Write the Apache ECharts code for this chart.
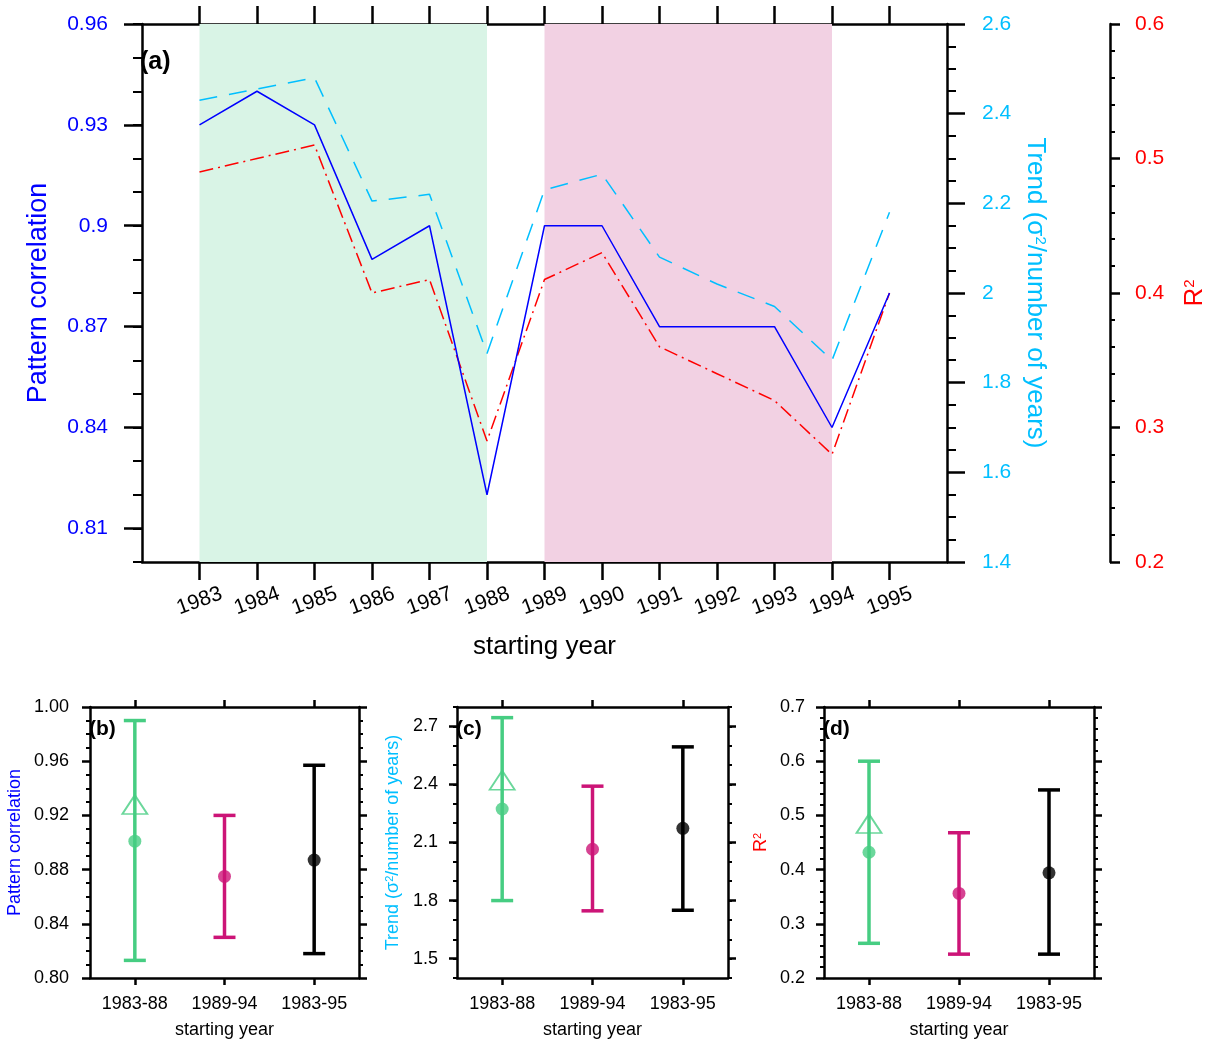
<!DOCTYPE html>
<html>
<head>
<meta charset="utf-8">
<script src="https://cdn.jsdelivr.net/npm/echarts@6/dist/echarts.min.js"></script>
<style>
  html, body { margin: 0; padding: 0; background: #ffffff; }
  #chart { width: 1223px; height: 1056px; }
</style>
</head>
<body>
<div id="chart"></div>
<script>
// ---- panel (a): yearly values ----
const years = [1983, 1984, 1985, 1986, 1987, 1988, 1989, 1990, 1991, 1992, 1993, 1994, 1995];
const patternCorr = [0.93, 0.94, 0.93, 0.89, 0.90, 0.82, 0.90, 0.90, 0.87, 0.87, 0.87, 0.84, 0.88];
const trendValues = [2.43, 2.455, 2.48, 2.205, 2.22, 1.865, 2.23, 2.265, 2.08, 2.02, 1.97, 1.85, 2.18];
const rSquared = [0.49, 0.50, 0.51, 0.40, 0.41, 0.29, 0.41, 0.43, 0.36, 0.34, 0.32, 0.28, 0.40];
const firstPeriod = [1983, 1988];
const secondPeriod = [1989, 1994];

// tick label values
const corrTickLabels = [0.81, 0.84, 0.87, 0.90, 0.93, 0.96];
const panelTrendTickLabels = [1.5, 1.8, 2.1, 2.4, 2.7];

// ---- panels (b)-(d): period statistics ----
const periods = ['1983-88', '1989-94', '1983-95'];
const corrMean = [0.901, 0.875, 0.887];
const corrLow = [0.813, 0.830, 0.818];
const corrHigh = [0.990, 0.920, 0.957];
const corrTriangle = [0.928];
const trendMean = [2.273, 2.065, 2.173];
const trendLow = [1.800, 1.747, 1.750];
const trendHigh = [2.745, 2.391, 2.594];
const trendTriangle = [2.422];
const r2Mean = [0.432, 0.356, 0.394];
const r2Low = [0.264, 0.244, 0.244];
const r2High = [0.600, 0.468, 0.547];
const r2Triangle = [0.485];

const periodColors = ['#46cd82', '#cc1477', '#000000'];
const BLUE = '#0000ff', SKY = '#00bfff', RED = '#ff0000';
const FONT = '"Liberation Sans", Arial, Helvetica, sans-serif';

function steps(lo, hi, step) {
  const out = [];
  const n = Math.round((hi - lo) / step);
  for (let i = 0; i <= n; i++) out.push(+(lo + i * step).toFixed(6));
  return out;
}

const frameLine = { show: true, onZero: false, lineStyle: { color: '#000', width: 2.5 } };
const noLabel = { show: false };
const noSplit = { show: false };

// ---- axes ----
const xAxes = [
  { // (a) bottom
    type: 'value', gridIndex: 0, position: 'bottom', min: 1982, max: 1996,
    axisLine: frameLine, splitLine: noSplit,
    axisTick: { show: true, customValues: years, length: 18, lineStyle: { width: 2.5, color: '#000' } },
    axisLabel: { show: true, customValues: years, rotate: 20, align: 'center', verticalAlign: 'middle',
                 margin: 39, fontSize: 21, color: '#000', fontFamily: FONT, formatter: v => String(v) },
    name: 'starting year', nameLocation: 'middle', nameGap: 72,
    nameTextStyle: { fontSize: 26, color: '#000', fontFamily: FONT }
  },
  { // (a) top
    type: 'value', gridIndex: 0, position: 'top', min: 1982, max: 1996,
    axisLine: frameLine, splitLine: noSplit, axisLabel: noLabel,
    axisTick: { show: true, customValues: years, length: 18, lineStyle: { width: 2.5, color: '#000' } }
  }
];

const yAxes = [
  { // 0: (a) pattern correlation, major ticks + labels
    type: 'value', gridIndex: 0, position: 'left', min: 0.80, max: 0.96,
    axisLine: frameLine, splitLine: noSplit,
    axisTick: { show: true, customValues: corrTickLabels, length: 18, lineStyle: { width: 2.5, color: '#000' } },
    axisLabel: { show: true, customValues: corrTickLabels, margin: 34, fontSize: 21, color: BLUE, fontFamily: FONT },
    name: 'Pattern correlation', nameLocation: 'middle', nameGap: 90,
    nameTextStyle: { fontSize: 27, color: BLUE, fontFamily: FONT }
  },
  { // 1: (a) pattern correlation minor ticks
    type: 'value', gridIndex: 0, position: 'left', min: 0.80, max: 0.96,
    axisLine: { show: false }, splitLine: noSplit, axisLabel: noLabel,
    axisTick: { show: true, customValues: steps(0.80, 0.96, 0.01), length: 9, lineStyle: { width: 2, color: '#000' } }
  },
  { // 2: (a) trend
    type: 'value', gridIndex: 0, position: 'right', min: 1.4, max: 2.6, interval: 0.2,
    axisLine: frameLine, splitLine: noSplit,
    axisTick: { show: true, length: 18, lineStyle: { width: 2.5, color: '#000' } },
    minorTick: { show: true, splitNumber: 4, length: 9, lineStyle: { width: 2, color: '#000' } },
    minorSplitLine: { show: false },
    axisLabel: { show: true, margin: 35, fontSize: 21, color: SKY, fontFamily: FONT },
    name: 'Trend (σ{sup|2}/number of years)', nameLocation: 'middle', nameGap: 72, nameRotate: -90,
    nameTextStyle: { fontSize: 26, color: SKY, fontFamily: FONT,
      rich: { sup: { fontSize: 15, color: SKY, fontFamily: FONT, verticalAlign: 'top', lineHeight: 26 } } }
  },
  { // 3: (a) R squared
    type: 'value', gridIndex: 0, position: 'right', offset: 163, min: 0.2, max: 0.6, interval: 0.1,
    axisLine: frameLine, splitLine: noSplit,
    axisTick: { show: true, length: 10, lineStyle: { width: 2.5, color: '#000' } },
    minorTick: { show: true, splitNumber: 5, length: 5, lineStyle: { width: 2, color: '#000' } },
    minorSplitLine: { show: false },
    axisLabel: { show: true, margin: 25, fontSize: 21, color: RED, fontFamily: FONT },
    name: 'R{sup|2}', nameLocation: 'middle', nameGap: 72, nameRotate: 90,
    nameTextStyle: { fontSize: 26, color: RED, fontFamily: FONT,
      rich: { sup: { fontSize: 15, color: RED, fontFamily: FONT, verticalAlign: 'top', lineHeight: 26 } } }
  }
];

// small panels (b)-(d)
function panelX(grid) {
  const tick = { show: true, alignWithLabel: true, length: 7, lineStyle: { width: 2.5, color: '#000' } };
  xAxes.push({
    type: 'category', gridIndex: grid, position: 'bottom', data: periods, boundaryGap: true,
    axisLine: frameLine, axisTick: tick, splitLine: noSplit,
    axisLabel: { show: true, margin: 17, fontSize: 18, color: '#000', fontFamily: FONT },
    name: 'starting year', nameLocation: 'middle', nameGap: 43,
    nameTextStyle: { fontSize: 18, color: '#000', fontFamily: FONT }
  });
  xAxes.push({
    type: 'category', gridIndex: grid, position: 'top', data: periods, boundaryGap: true,
    axisLine: frameLine, axisTick: tick, axisLabel: noLabel, splitLine: noSplit
  });
}
function panelY(grid, cfg) {
  const base = { type: 'value', gridIndex: grid, min: cfg.min, max: cfg.max, splitLine: noSplit };
  const major = { show: true, length: 8, lineStyle: { width: 2.5, color: '#000' } };
  const minorLen = 4;
  const sides = ['left', 'right'];
  sides.forEach(side => {
    const ax = Object.assign({}, base, { position: side, axisLine: frameLine });
    if (cfg.labels) {
      ax.axisTick = Object.assign({ customValues: cfg.labels }, major);
    } else {
      ax.interval = cfg.interval;
      ax.axisTick = major;
      ax.minorTick = { show: true, splitNumber: cfg.minorSplit, length: minorLen, lineStyle: { width: 2, color: '#000' } };
      ax.minorSplitLine = { show: false };
    }
    if (side === 'left') {
      ax.axisLabel = { show: true, margin: cfg.margin, fontSize: 18, color: '#000', fontFamily: FONT,
                       formatter: v => v.toFixed(cfg.digits) };
      if (cfg.labels) ax.axisLabel.customValues = cfg.labels;
      ax.name = cfg.name; ax.nameLocation = 'middle'; ax.nameGap = cfg.nameGap;
      ax.nameTextStyle = { fontSize: 18, color: cfg.color, fontFamily: FONT,
        rich: { sup: { fontSize: 11, color: cfg.color, fontFamily: FONT, verticalAlign: 'top', lineHeight: 18 } } };
    } else {
      ax.axisLabel = noLabel;
    }
    yAxes.push(ax);
    if (cfg.labels) {
      yAxes.push(Object.assign({}, base, {
        position: side, axisLine: { show: false }, axisLabel: noLabel,
        axisTick: { show: true, customValues: cfg.minorValues, length: minorLen, lineStyle: { width: 2, color: '#000' } }
      }));
    }
  });
  return yAxes.length;
}

const grids = [
  { left: 142, top: 24, width: 805, height: 538 },
  { left: 90, top: 707, width: 269, height: 271 },
  { left: 457, top: 707, width: 271, height: 271 },
  { left: 824, top: 707, width: 270, height: 271 }
];

panelX(1); panelX(2); panelX(3);
const yB = yAxes.length;
panelY(1, { min: 0.80, max: 1.00, interval: 0.04, minorSplit: 4, digits: 2, margin: 21,
            name: 'Pattern correlation', nameGap: 66, color: BLUE });
const yC = yAxes.length;
panelY(2, { min: 1.4, max: 2.8, labels: panelTrendTickLabels, minorValues: steps(1.4, 2.8, 0.1), digits: 1, margin: 19,
            name: 'Trend (σ{sup|2}/number of years)', nameGap: 55, color: SKY });
const yD = yAxes.length;
panelY(3, { min: 0.2, max: 0.7, interval: 0.1, minorSplit: 5, digits: 1, margin: 19,
            name: 'R{sup|2}', nameGap: 54, color: RED });

// ---- series ----
const pairs = vals => years.map((y, i) => [y, vals[i]]);

function errorBarSeries(xIdx, yIdx, lows, highs) {
  return {
    type: 'custom', xAxisIndex: xIdx, yAxisIndex: yIdx, z: 3,
    data: periods.map((p, i) => [i, lows[i], highs[i]]),
    renderItem: function (params, api) {
      const i = api.value(0);
      const lo = api.coord([i, api.value(1)]);
      const hi = api.coord([i, api.value(2)]);
      const half = 11;
      const style = { stroke: periodColors[params.dataIndex], lineWidth: 3.5, fill: null };
      return { type: 'group', children: [
        { type: 'line', shape: { x1: lo[0], y1: lo[1], x2: hi[0], y2: hi[1] }, style: style },
        { type: 'line', shape: { x1: lo[0] - half, y1: lo[1], x2: lo[0] + half, y2: lo[1] }, style: style },
        { type: 'line', shape: { x1: hi[0] - half, y1: hi[1], x2: hi[0] + half, y2: hi[1] }, style: style }
      ] };
    }
  };
}
function meanSeries(xIdx, yIdx, means) {
  return {
    type: 'scatter', xAxisIndex: xIdx, yAxisIndex: yIdx, z: 5, symbol: 'circle', symbolSize: 13,
    data: means.map((m, i) => ({ value: [i, m], itemStyle: { color: periodColors[i] } }))
  };
}
function triangleSeries(xIdx, yIdx, vals) {
  return {
    type: 'scatter', xAxisIndex: xIdx, yAxisIndex: yIdx, z: 4, symbol: 'triangle', symbolSize: [25, 19],
    data: vals.map((v, i) => [i, v]),
    itemStyle: { color: 'rgba(0,0,0,0)', borderColor: periodColors[0], borderWidth: 1.8 }
  };
}

const series = [
  { // shaded periods
    type: 'line', xAxisIndex: 0, yAxisIndex: 0, z: 1, data: [], silent: true,
    markArea: {
      silent: true,
      data: [
        [{ xAxis: firstPeriod[0], itemStyle: { color: '#d9f4e6' } }, { xAxis: firstPeriod[1] }],
        [{ xAxis: secondPeriod[0], itemStyle: { color: '#f2d1e3' } }, { xAxis: secondPeriod[1] }]
      ]
    }
  },
  { type: 'line', name: 'Trend', xAxisIndex: 0, yAxisIndex: 2, z: 3, data: pairs(trendValues),
    showSymbol: false, lineStyle: { color: SKY, width: 1.5, type: [18, 12] } },
  { type: 'line', name: 'R2', xAxisIndex: 0, yAxisIndex: 3, z: 3, data: pairs(rSquared),
    showSymbol: false, lineStyle: { color: RED, width: 1.5, type: [14, 5, 2, 5] } },
  { type: 'line', name: 'Pattern correlation', xAxisIndex: 0, yAxisIndex: 0, z: 4, data: pairs(patternCorr),
    showSymbol: false, lineStyle: { color: BLUE, width: 1.5 } },

  errorBarSeries(2, yB, corrLow, corrHigh),
  triangleSeries(2, yB, corrTriangle),
  meanSeries(2, yB, corrMean),
  errorBarSeries(4, yC, trendLow, trendHigh),
  triangleSeries(4, yC, trendTriangle),
  meanSeries(4, yC, trendMean),
  errorBarSeries(6, yD, r2Low, r2High),
  triangleSeries(6, yD, r2Triangle),
  meanSeries(6, yD, r2Mean)
];

const panelTag = (text, left, top, size) => ({
  type: 'text', left: left, top: top, z: 100,
  style: { text: text, fontSize: size, fontWeight: 'bold', fill: '#000', fontFamily: FONT }
});

const chart = echarts.init(document.getElementById('chart'), null, { renderer: 'canvas' });
chart.setOption({
  animation: false,
  backgroundColor: '#ffffff',
  textStyle: { fontFamily: FONT },
  grid: grids,
  xAxis: xAxes,
  yAxis: yAxes,
  series: series,
  graphic: [
    panelTag('(a)', 140, 50, 25),
    panelTag('(b)', 89, 719, 21),
    panelTag('(c)', 456, 719, 21),
    panelTag('(d)', 823, 719, 21)
  ]
});
</script>
</body>
</html>
